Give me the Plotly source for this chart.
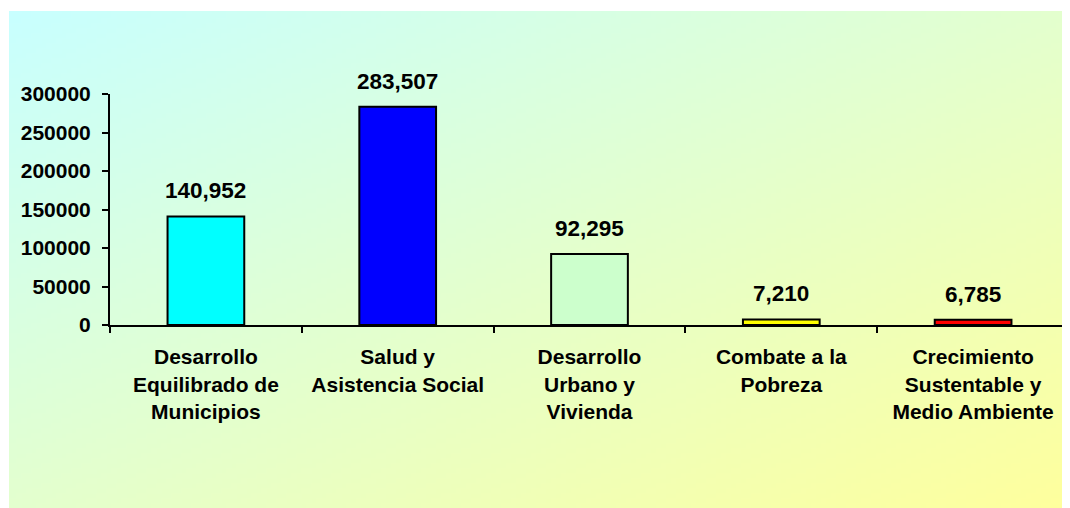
import base64
import struct
import zlib

import plotly.graph_objects as go

categories = ["Desarrollo<br>Equilibrado de<br>Municipios", "Salud y<br>Asistencia Social",
              "Desarrollo<br>Urbano y<br>Vivienda", "Combate a la<br>Pobreza",
              "Crecimiento<br>Sustentable y<br>Medio Ambiente"]
values = [140952, 283507, 92295, 7210, 6785]
bar_colors = ["#00FFFF", "#0000FF", "#CCFFCC", "#FFFF00", "#FF0000"]
y_ticks = [0, 50000, 100000, 150000, 200000, 250000, 300000]

FONT = "Liberation Sans, Arial, sans-serif"

# figure geometry (pixels)
W, H = 1070, 508
ML, MR, MT, MB = 102, 9, 86, 191
PW, PH = W - ML - MR, H - MT - MB
BG_LEFT, BG_TOP = 1, 3  # gradient panel starts here, runs to figure edges


# ---- diagonal gradient background image (styling only) ----
def _gradient_png(w, h, c0, c1):
    rows = []
    for j in range(h):
        row = bytearray([0])
        for i in range(w):
            t = (i / (w - 1) + j / (h - 1)) / 2
            row += bytes(round(a + (b - a) * t) for a, b in zip(c0, c1))
        rows.append(bytes(row))
    raw = b"".join(rows)

    def chunk(tag, data):
        return (struct.pack(">I", len(data)) + tag + data
                + struct.pack(">I", zlib.crc32(tag + data) & 0xFFFFFFFF))

    png = (b"\x89PNG\r\n\x1a\n"
           + chunk(b"IHDR", struct.pack(">IIBBBBB", w, h, 8, 2, 0, 0, 0))
           + chunk(b"IDAT", zlib.compress(raw))
           + chunk(b"IEND", b""))
    return "data:image/png;base64," + base64.b64encode(png).decode()


bg_src = _gradient_png(214, 101, (200, 255, 255), (255, 255, 156))

fig = go.Figure()

fig.add_trace(go.Bar(
    x=categories, y=values, marker_color=bar_colors,
    marker_line_color="black", marker_line_width=2, hoverinfo="skip"))

for c, v in zip(categories, values):
    fig.add_annotation(x=c, y=v, text=f"<b>{v:,}</b>",
                       showarrow=False, yanchor="bottom", yshift=11,
                       font=dict(family=FONT, size=22.5, color="black"))

fig.add_layout_image(dict(source=bg_src, xref="paper", yref="paper",
                          x=(BG_LEFT - ML) / PW, y=1 + (MT - BG_TOP) / PH,
                          sizex=(W - BG_LEFT) / PW, sizey=(H - BG_TOP) / PH,
                          xanchor="left", yanchor="top", sizing="stretch",
                          layer="below"))

fig.update_layout(
    width=W, height=H, autosize=False,
    margin=dict(l=ML, r=MR, t=MT, b=MB),
    paper_bgcolor="white", plot_bgcolor="rgba(0,0,0,0)",
    showlegend=False,
    font=dict(family=FONT, color="black"),
    xaxis=dict(showline=True, linecolor="black", linewidth=2,
               ticks="outside", tickson="boundaries", ticklen=6, tickwidth=2, tickcolor="black",
               tickfont=dict(family=FONT, size=21, color="black", weight="bold"),
               showgrid=False, zeroline=False, ticklabelstandoff=12, fixedrange=True),
    yaxis=dict(range=[0, 300000],
               tickvals=y_ticks, ticktext=[str(t) for t in y_ticks],
               showline=True, linecolor="black", linewidth=2,
               ticks="outside", ticklen=6, tickwidth=2, tickcolor="black",
               tickfont=dict(family=FONT, size=21, color="black", weight="bold"),
               showgrid=False, zeroline=False, ticklabelstandoff=7, fixedrange=True),
    bargap=0.6,
)

fig.write_html("out.html")
